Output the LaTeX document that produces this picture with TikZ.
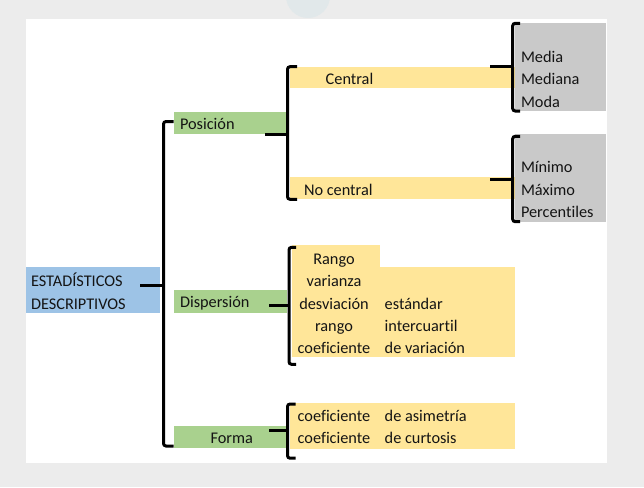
\documentclass[tikz,border=0pt]{standalone}
\usepackage{fontspec}
\setmainfont{Carlito}[Ligatures=CommonOff]
\definecolor{bgc}{HTML}{ECECEC}
\definecolor{deco}{HTML}{E1E8EA}
\definecolor{bluebox}{HTML}{9DC3E6}
\definecolor{greenbox}{HTML}{A9D18E}
\definecolor{yellowbox}{HTML}{FFE699}
\definecolor{greybox}{HTML}{C9C9C9}
\definecolor{txt}{HTML}{141414}
\begin{document}
\begin{tikzpicture}[x=1pt,y=-1pt,
  box/.style={draw=none,inner sep=0pt,outer sep=0pt,anchor=north west},
  lbl/.style={inner sep=0pt,outer sep=0pt,anchor=base west,text=txt,font=\fontsize{16.3}{19.6}\selectfont},
  clbl/.style={lbl,anchor=base},
  brk/.style={line width=3pt,rounded corners=2.5pt,black}
]
% background and panel
\fill[bgc] (0,0) rectangle (644,487);
\useasboundingbox (0,0) rectangle (644,487);
\fill[deco] (308,-4) circle (22);
\fill[white] (26,19.5) rectangle (606.5,462.5);

% boxes
\node[box,fill=bluebox,minimum width=134pt,minimum height=45.3pt] (est) at (26,267.3) {};
\node[box,fill=greenbox,minimum width=113.3pt,minimum height=22.3pt] (pos) at (173.7,111.7) {};
\node[box,fill=greenbox,minimum width=113.3pt,minimum height=22.7pt] (disp) at (173.7,290) {};
\node[box,fill=greenbox,minimum width=112pt,minimum height=22pt] (forma) at (173.7,425.7) {};
\node[box,fill=yellowbox,minimum width=224.7pt,minimum height=21.6pt] (central) at (290,66.7) {};
\node[box,fill=yellowbox,minimum width=224.7pt,minimum height=22pt] (nocentral) at (290,177.3) {};
\node[box,fill=greybox,minimum width=91.3pt,minimum height=87.7pt] (g1) at (514.7,23.3) {};
\node[box,fill=greybox,minimum width=91.3pt,minimum height=87.4pt] (g2) at (514.7,134.3) {};
\node[box,fill=yellowbox,minimum width=88pt,minimum height=22.2pt] (rbox) at (292,245) {};
\node[box,fill=yellowbox,minimum width=223.3pt,minimum height=90.6pt] (dlist) at (292,266.7) {};
\node[box,fill=yellowbox,minimum width=225.8pt,minimum height=45.4pt] (flist) at (289.5,403.3) {};

% brackets
\draw[brk] ([yshift=-9.8pt]pos.north west) -- ++(-10.2,0) |- ([yshift=1.7pt]forma.south west);
\draw[brk] ([xshift=-20pt,yshift=4.25pt]est.east) -- ++(23.5,0);

\draw[brk] ([xshift=7pt]central.north west) -- ++(-9.5,0) |- ([xshift=7pt]nocentral.south west);
\draw[brk] ([xshift=-22pt]pos.south east) -- ++(22.5,0);

\draw[brk] ([xshift=5.5pt]g1.north west) -- ++(-7.5,0) |- ([xshift=5.5pt]g1.south west);
\draw[brk] ([xshift=-24.7pt]central.north east) -- ++(22.7,0);

\draw[brk] ([xshift=5.5pt,yshift=-2pt]g2.north west) -- ++(-7.5,0) |- ([xshift=5.5pt]g2.south west);
\draw[brk] ([xshift=-24.7pt,yshift=-2pt]nocentral.north east) -- ++(22.7,0);

\draw[brk] ([xshift=4pt,yshift=-2.3pt]rbox.north west) -- ++(-7,0) |- ([xshift=4pt,yshift=-7pt]dlist.south west);
\draw[brk] ([xshift=-18pt,yshift=-3.7pt]disp.east) -- ++(20,0);

\draw[brk] ([xshift=6pt,yshift=-0.7pt]flist.north west) -- ++(-8,0) |- ([xshift=6pt,yshift=-9.5pt]flist.south west);
\draw[brk] ([xshift=-16.4pt,yshift=-4.3pt]forma.north east) -- ++(18.2,0);

% labels
\node[lbl] (t-est1) at (31,286.5) {ESTADÍSTICOS};
\node[lbl] (t-est2) at (31,309.2) {DESCRIPTIVOS};
\node[lbl] (t-pos) at (180,129.5) {Posición};
\node[lbl] (t-disp) at (180,307.5) {Dispersión};
\node[clbl] (t-forma) at (231.7,443) {Forma};
\node[lbl] (t-central) at (325.7,84) {Central};
\node[lbl] (t-nocentral) at (304,195) {No central};
\node[lbl] (t-media) at (521,62.3) {Media};
\node[lbl] (t-mediana) at (521,84.7) {Mediana};
\node[lbl] (t-moda) at (521,107) {Moda};
\node[lbl] (t-min) at (521,172.7) {Mínimo};
\node[lbl] (t-max) at (521,195) {Máximo};
\node[lbl] (t-perc) at (521,217.3) {Percentiles};

\node[clbl] (d1) at (334,264.3) {Rango};
\node[clbl] (d2) at (334,286.6) {varianza};
\node[clbl] (d3) at (334,309) {desviación};
\node[clbl] (d4) at (334,331.4) {rango};
\node[clbl] (d5) at (334,353.8) {coeficiente};
\node[lbl] (d3b) at (384.7,309) {estándar};
\node[lbl] (d4b) at (384.7,331.4) {intercuartil};
\node[lbl] (d5b) at (384.7,353.8) {de variación};

\node[clbl] (f1) at (334,421.3) {coeficiente};
\node[clbl] (f2) at (334,443.7) {coeficiente};
\node[lbl] (f1b) at (384.7,421.3) {de asimetría};
\node[lbl] (f2b) at (384.7,443.7) {de curtosis};
\end{tikzpicture}
\end{document}
